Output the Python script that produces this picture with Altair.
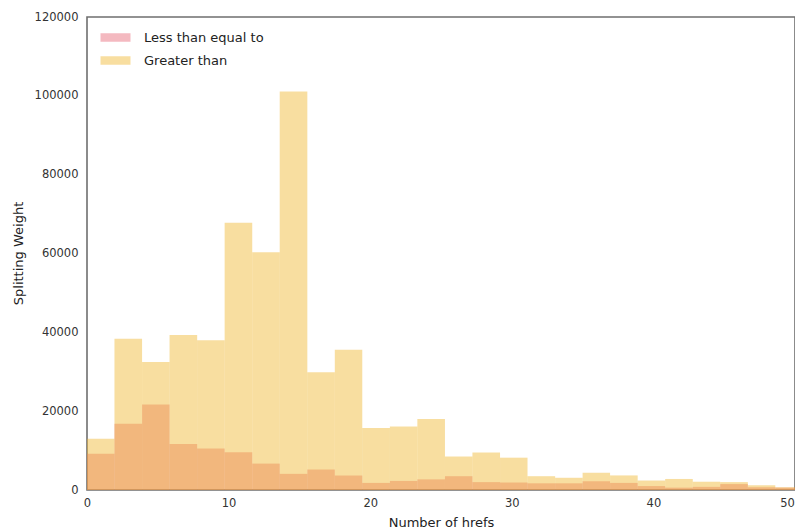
import altair as alt
import pandas as pd

# Histogram bin edges (Number of hrefs)
bin_edges = [0.0, 1.94, 3.89, 5.83, 7.78, 9.72, 11.67, 13.61, 15.56, 17.5,
             19.44, 21.39, 23.33, 25.28, 27.22, 29.17, 31.11, 33.06, 35.0,
             36.94, 38.89, 40.83, 42.78, 44.72, 46.67, 48.61, 50.56]

# Splitting weight per bin
less_equal = [9200, 16800, 21700, 11700, 10500, 9600, 6700, 4100, 5200, 3700,
              1800, 2300, 2700, 3500, 2000, 1900, 1700, 1700, 2200, 1800,
              1000, 600, 800, 1500, 700, 600]
greater = [13000, 38400, 32500, 39300, 38000, 67800, 60300, 101100, 29900, 35600,
           15700, 16100, 18000, 8500, 9500, 8200, 3500, 3100, 4400, 3700,
           2400, 2800, 2100, 2000, 1200, 700]

series_names = ["Less than equal to", "Greater than"]
series_colors = ["#E76373", "#EFB62C"]

x_ticks = [0, 10, 20, 30, 40, 50]
y_ticks = [0, 20000, 40000, 60000, 80000, 100000, 120000]

rows = []
for name, vals in zip(series_names, [less_equal, greater]):
    for i, v in enumerate(vals):
        rows.append({"series": name, "start": bin_edges[i], "end": bin_edges[i + 1], "weight": v})
df = pd.DataFrame(rows)
df["order"] = df["series"].map({series_names[0]: 0, series_names[1]: 1})

FONT = "DejaVu Sans"

chart = alt.Chart(df).mark_bar(opacity=0.45, clip=True, strokeWidth=0).encode(
    x=alt.X("start:Q",
            scale=alt.Scale(domain=[0, 50], nice=False, zero=False),
            axis=alt.Axis(values=x_ticks, title="Number of hrefs", grid=False, ticks=False,
                          domain=False, labelPadding=7, labelFontSize=11.5,
                          labelFont=FONT, labelColor="#333333", titleFont=FONT,
                          titleFontSize=13, titleFontWeight="normal", titleColor="#222222",
                          titleX=354, titleY=32, titleBaseline="middle",
                          labelFlush=False,
                          labelOffset={"condition": {"test": "datum.value == 50", "value": -8},
                                       "value": 0})),
    x2="end:Q",
    y=alt.Y("weight:Q", stack=None,
            scale=alt.Scale(domain=[0, 120000], nice=False),
            axis=alt.Axis(values=y_ticks, format="d", title="Splitting Weight", grid=False,
                          ticks=False, domain=False, labelPadding=9, labelFontSize=11.5,
                          labelFont=FONT, labelColor="#333333", titleFont=FONT,
                          titleFontSize=13, titleFontWeight="normal", titleColor="#222222",
                          titleX=-69, titleY=236, titleAngle=-90, titleBaseline="middle",
                          labelFlush=False)),
    y2=alt.datum(0),
    color=alt.Color("series:N",
                    scale=alt.Scale(domain=series_names, range=series_colors),
                    legend=alt.Legend(title=None, orient="none", legendX=22, legendY=14,
                                      symbolType="M-3,-0.85H3V0.85H-3Z", symbolSize=100,
                                      symbolStrokeWidth=0, symbolOpacity=0.45,
                                      labelFont=FONT, labelFontSize=13, labelColor="#222222",
                                      labelOffset=22, rowPadding=9, padding=0)),
    order=alt.Order("order:Q"),
).properties(
    width=708,
    height=473,
    background="white",
    autosize=alt.AutoSizeParams(type="none"),
    padding={"left": 79, "top": 9, "right": 0, "bottom": 38},
).configure_view(
    stroke="#6f6f6f",
    strokeWidth=1.6,
)

chart.save("out.html", embed_options={"renderer": "svg", "actions": False})
